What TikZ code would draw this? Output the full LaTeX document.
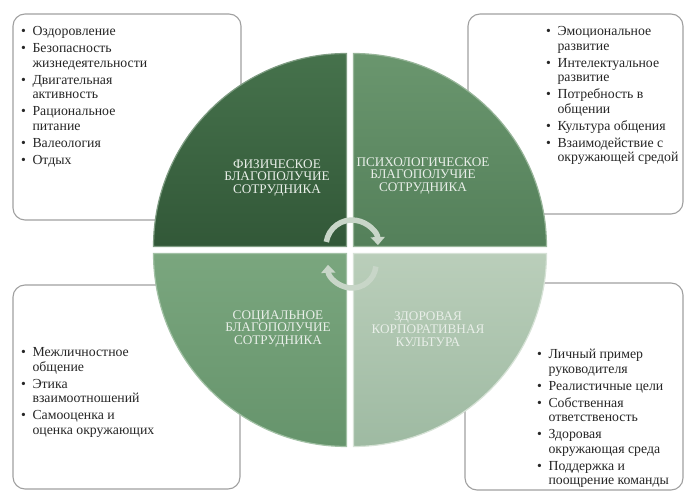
\documentclass[tikz,border=0pt]{standalone}
\usepackage{fontspec}
\setmainfont{Liberation Serif}
\usetikzlibrary{arrows.meta}

\definecolor{boxgray}{RGB}{160,160,160}
\definecolor{physTop}{RGB}{70,114,76}
\definecolor{physBot}{RGB}{50,88,56}
\definecolor{psyTop}{RGB}{106,150,110}
\definecolor{psyBot}{RGB}{84,128,90}
\definecolor{socTop}{RGB}{122,166,126}
\definecolor{socBot}{RGB}{102,148,108}
\definecolor{corpTop}{RGB}{186,206,186}
\definecolor{corpBot}{RGB}{158,186,162}
\definecolor{quadtext}{RGB}{232,238,232}
\definecolor{arrowgreen}{RGB}{200,214,200}

\newcommand{\itemrow}[1]{\rule{0pt}{12.6pt}\textbullet & #1\\}
\newcommand{\wraprow}[1]{& #1\\}

\begin{document}
\begin{tikzpicture}[x=1pt,y=1pt,
	infobox/.style={draw=boxgray, line width=1.1pt, rounded corners=12pt, fill=white},
	itemlist/.style={anchor=north west, inner sep=0pt, text=black!85,
		font=\fontsize{13.8}{14.5}\selectfont},
	quadlabel/.style={align=center, inner sep=0pt, text=quadtext,
		font=\fontsize{13.2}{12.8}\selectfont},
	quadrant/.style={line width=1.2pt},
	cyclearrow/.style={line width=5.5pt, draw=arrowgreen, -{Triangle[width=14pt,length=8pt]}}]
	\useasboundingbox (0,0) rectangle (685,495);
	% boxes behind the circle
	\draw[infobox] (13,275) rectangle (241,481);
	\draw[infobox] (468,281) rectangle (683,481);
	\draw[infobox] (13,6) rectangle (240,210);
	\draw[infobox] (465,5) rectangle (683,212);
	% quadrants
	\shadedraw[quadrant, top color=physTop, bottom color=physBot, draw=physTop!70!white]
		(346.5,248.5) -- ++(-193,0) arc[start angle=180, end angle=90, radius=193] -- cycle;
	\shadedraw[quadrant, top color=psyTop, bottom color=psyBot, draw=psyTop!70!white]
		(353.5,248.5) -- ++(0,193) arc[start angle=90, end angle=0, radius=193] -- cycle;
	\shadedraw[quadrant, top color=socTop, bottom color=socBot, draw=socTop!70!white]
		(346.5,241.5) -- ++(-193,0) arc[start angle=180, end angle=270, radius=193] -- cycle;
	\shadedraw[quadrant, top color=corpTop, bottom color=corpBot, draw=corpTop!60!white]
		(353.5,241.5) -- ++(193,0) arc[start angle=0, end angle=-90, radius=193] -- cycle;
	% labels
	\node[quadlabel] (phys) at (277,317) {ФИЗИЧЕСКОЕ\\БЛАГОПОЛУЧИЕ\\СОТРУДНИКА};
	\node[quadlabel] (psych) at (423,319) {ПСИХОЛОГИЧЕСКОЕ\\БЛАГОПОЛУЧИЕ\\СОТРУДНИКА};
	\node[quadlabel] (soc) at (278,166) {СОЦИАЛЬНОЕ\\БЛАГОПОЛУЧИЕ\\СОТРУДНИКА};
	\node[quadlabel] (corp) at (428,166) {ЗДОРОВАЯ\\КОРПОРАТИВНАЯ\\КУЛЬТУРА};
	% cycle arrows
	\draw[cyclearrow] (352,249) ++(171:26) arc[start angle=171, end angle=2, radius=26];
	\draw[cyclearrow] (352,231) ++(-6:24) arc[start angle=-6, end angle=-178, radius=24];
	% lists
	\node[itemlist] (physlist) at (21,472) {\begin{tabular}{@{}l@{\hspace{6.5pt}}l@{}}
		\itemrow{Оздоровление}
		\itemrow{Безопасность}
		\wraprow{жизнедеятельности}
		\itemrow{Двигательная}
		\wraprow{активность}
		\itemrow{Рациональное}
		\wraprow{питание}
		\itemrow{Валеология}
		\itemrow{Отдых}
	\end{tabular}};
	\node[itemlist] (psychlist) at (546,472) {\begin{tabular}{@{}l@{\hspace{6.5pt}}l@{}}
		\itemrow{Эмоциональное}
		\wraprow{развитие}
		\itemrow{Интелектуальное}
		\wraprow{развитие}
		\itemrow{Потребность в}
		\wraprow{общении}
		\itemrow{Культура общения}
		\itemrow{Взаимодействие с}
		\wraprow{окружающей средой}
	\end{tabular}};
	\node[itemlist] (soclist) at (21,151) {\begin{tabular}{@{}l@{\hspace{6.5pt}}l@{}}
		\itemrow{Межличностное}
		\wraprow{общение}
		\itemrow{Этика}
		\wraprow{взаимоотношений}
		\itemrow{Самооценка и}
		\wraprow{оценка окружающих}
	\end{tabular}};
	\node[itemlist] (corplist) at (537,149) {\begin{tabular}{@{}l@{\hspace{6.5pt}}l@{}}
		\itemrow{Личный пример}
		\wraprow{руководителя}
		\itemrow{Реалистичные цели}
		\itemrow{Собственная}
		\wraprow{ответственость}
		\itemrow{Здоровая}
		\wraprow{окружающая среда}
		\itemrow{Поддержка и}
		\wraprow{поощрение команды}
	\end{tabular}};
\end{tikzpicture}
\end{document}
